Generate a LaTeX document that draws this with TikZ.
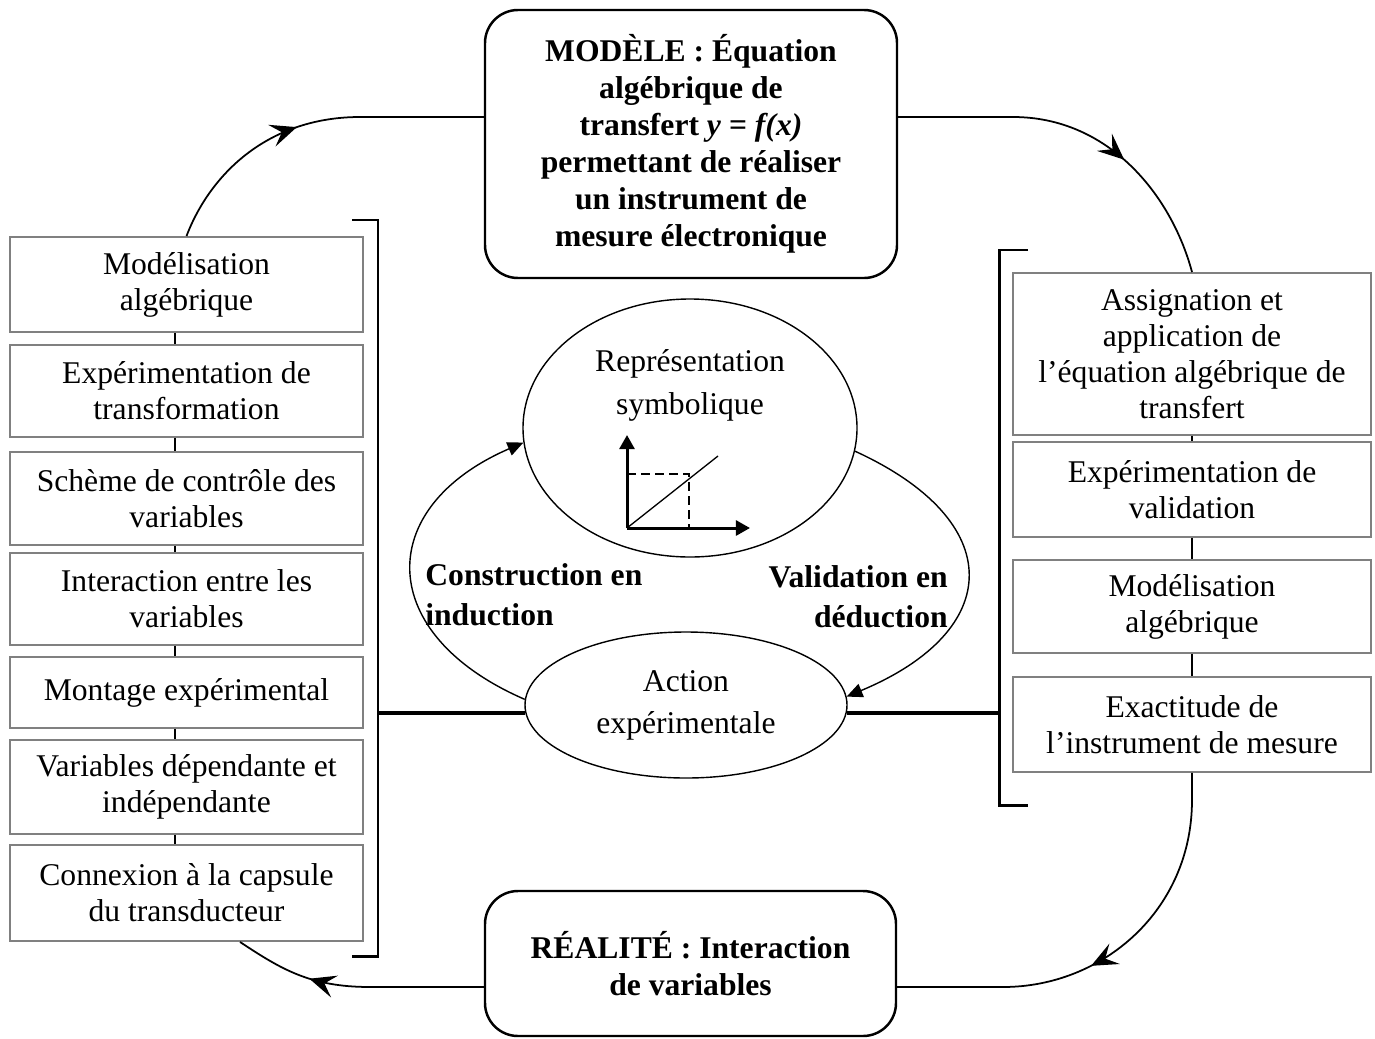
\documentclass[tikz,border=0pt]{standalone}
\usepackage{fontspec}
\setmainfont{Liberation Serif}
\usetikzlibrary{arrows.meta,shapes.geometric,decorations.markings}
\newdimen\px \px=0.02cm
\definecolor{boxgray}{RGB}{128,128,128}

\tikzset{
  stepbox/.style={draw=boxgray, line width=1.1pt, inner sep=0pt, align=center,
    font=\fontsize{18}{20.5}\selectfont},
  lbox/.style={stepbox, minimum width=353\px},
  rbox/.style={stepbox, minimum width=358\px},
  poleframe/.style={draw, line width=1.4pt, rounded corners=33\px, inner sep=0pt,
    align=center, font=\bfseries\fontsize{18}{21}\selectfont},
  phase/.style={draw, ellipse, line width=0.8pt, inner sep=0pt},
  boxlink/.style={line width=0.8pt},
  looppath/.style={line width=1pt},
  loopmark/.style={postaction={decorate, decoration={markings,
    mark=at position #1 with {\arrow{Stealth[length=15pt,width=13pt,inset=6pt]}}}}},
  brk/.style={line width=1.7pt},
  thickbar/.style={line width=2.3pt},
  innerarc/.style={line width=0.8pt, -{Triangle[length=9pt,width=8pt]}},
  graphaxis/.style={line width=1.7pt, -{Triangle[length=8pt,width=8.5pt]}},
  lbl/.style={font=\bfseries\fontsize{18}{22.7}\selectfont, inner sep=0pt},
}

\begin{document}
\begin{tikzpicture}[x=0.02cm, y=-0.02cm]
\useasboundingbox (0,0) rectangle (1375,1038);

% the two poles
\node[poleframe, minimum width=412\px, minimum height=268\px] (model) at (691,144)
  {MODÈLE : Équation\\algébrique de\\transfert \textit{y} = \textit{f(x)}\\permettant de réaliser\\un instrument de\\mesure électronique};
\node[poleframe, minimum width=411\px, minimum height=145\px] (real) at (690.5,963.5)
  {RÉALITÉ : Interaction\\de variables};

% induction steps (left column)
\node[lbox, minimum height=95\px] (l1) at (186.5,284.5) {Modélisation\\algébrique};
\node[lbox, minimum height=92\px] (l2) at (186.5,391) {Expérimentation de\\transformation};
\node[lbox, minimum height=93\px] (l3) at (186.5,498.5) {Schème de contrôle des\\variables};
\node[lbox, minimum height=92\px] (l4) at (186.5,599) {Interaction entre les\\variables};
\node[lbox, minimum height=71\px] (l5) at (186.5,692.5) {Montage expérimental};
\node[lbox, minimum height=94\px] (l6) at (186.5,787) {Variables dépendante et\\indépendante};
\node[lbox, minimum height=96\px] (l7) at (186.5,893) {Connexion à la capsule\\du transducteur};

% deduction steps (right column)
\node[rbox, minimum height=162\px] (r1) at (1192,354) {Assignation et\\application de\\l’équation algébrique de\\transfert};
\node[rbox, minimum height=95\px] (r2) at (1192,489.5) {Expérimentation de\\validation};
\node[rbox, minimum height=93\px] (r3) at (1192,606.5) {Modélisation\\algébrique};
\node[rbox, minimum height=95\px] (r4) at (1192,724.5) {Exactitude de\\l’instrument de mesure};

% links between steps
\coordinate (lstem) at (175,0);
\foreach \a/\b in {l1/l2,l2/l3,l3/l4,l4/l5,l5/l6,l6/l7}
  \draw[boxlink] (\a.south -| lstem) -- (\b.north -| lstem);
\coordinate (rstem) at (1192,0);
\foreach \a/\b in {r1/r2,r2/r3,r3/r4}
  \draw[boxlink] (\a.south -| rstem) -- (\b.north -| rstem);

% brackets
\coordinate (lbb) at (378,956);
\coordinate (rbb) at (999,805);
\draw[brk] (352,220) -- (378,220) -- (lbb) -- (352,956);
\draw[brk] (1028,250) -- (999,250) -- (rbb) -- (1028,805);

% central cycle
\node[phase, minimum width=334\px, minimum height=258\px] (rep) at (690,428) {};
\node[font=\fontsize{18}{24.4}\selectfont, align=center, inner sep=0pt] (reptext) at (690,385)
  {Représentation\\symbolique};
\node[phase, minimum width=322\px, minimum height=146\px, align=center,
  font=\fontsize{18}{24}\selectfont] (act) at (686,705) {Action\\expérimentale};

\draw[thickbar] (act.183) -- (act.183 -| lbb);
\draw[thickbar] (act.-3) -- (act.-3 -| rbb);

\draw[innerarc] (act.178) .. controls +(-150,-65) and +(-150,65) .. (rep.185);
\draw[innerarc] (rep.-8) .. controls +(153,70) and +(158,-66) .. (act.3);

\node[lbl, align=left, anchor=west] (ind) at (425,595) {Construction en\\induction};
\node[lbl, align=right, anchor=east] (ded) at (948,597) {Validation en\\déduction};

% small linear graph
\coordinate (gO) at (627,528);
\draw[graphaxis] (gO) -- (627,435);
\draw[graphaxis] (gO) -- (750,528);
\draw[line width=0.75pt] (gO) -- (718,456);
\draw[line width=0.8pt, dash pattern=on 5pt off 3pt] (627,474) -- (689,474) -- (689,528);

% outer loop
\coordinate (tlbend) at (360,117);
\draw[looppath, loopmark=0.46] (l1.north) .. controls (211,172) and (270,117) .. (tlbend) -- (tlbend -| model.west);
\coordinate (trbend) at (1013,117);
\draw[looppath, loopmark=0.64] (trbend -| model.east) -- (trbend) .. controls (1108,117) and (1171,194) .. (r1.north);
\coordinate (brtop) at (1192,800);
\coordinate (brbend) at (1003,987);
\draw[looppath, loopmark=0.54] (r4.south) -- (brtop) .. controls (1192,910) and (1103,987) .. (brbend) -- (brbend -| real.east);
\coordinate (blbend) at (370,987);
\coordinate (blfoot) at (240,0);
\draw[looppath, loopmark=0.69] (blbend -| real.west) -- (blbend) .. controls (310,987) and (281,969) .. (l7.south -| blfoot);
\end{tikzpicture}
\end{document}
